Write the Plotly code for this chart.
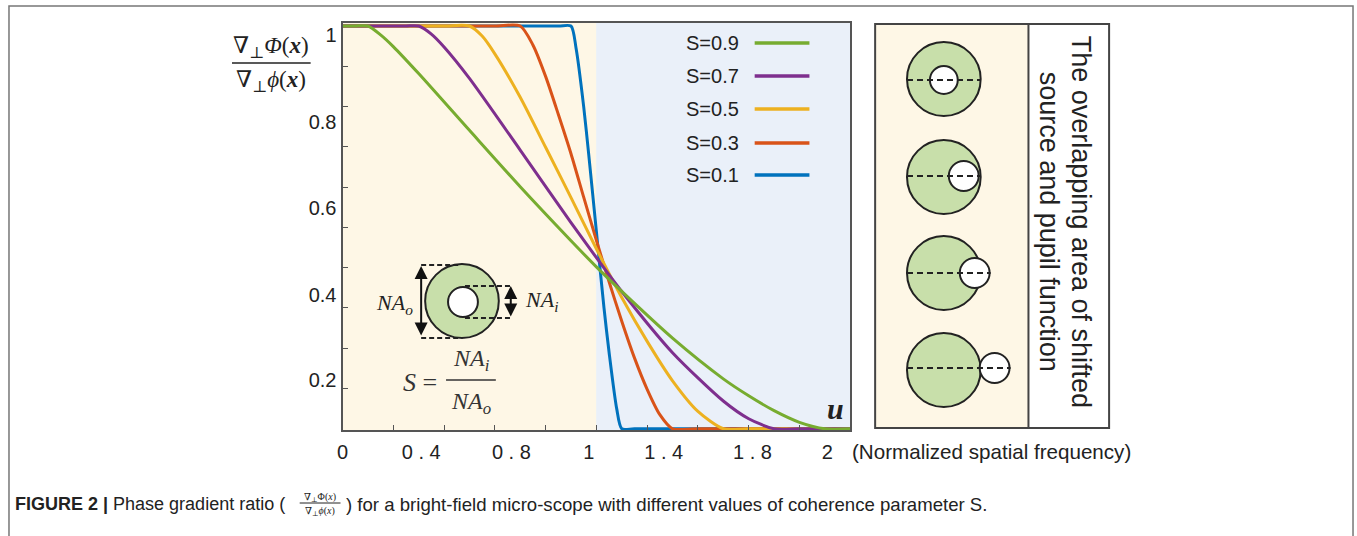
import plotly.graph_objects as go

W, H = 1357, 536

# ---------------- data ----------------
series_names = ["S=0.9", "S=0.7", "S=0.5", "S=0.3", "S=0.1"]
series_colors = ["#77AC30", "#7E2F8E", "#EDB120", "#D95319", "#0072BD"]

u_09 = [0, 0.05, 0.1, 0.15, 0.2, 0.3, 0.5, 0.7, 0.9, 1.0, 1.1, 1.3, 1.5, 1.6, 1.7, 1.8, 1.9, 2.0]
v_09 = [1, 1, 1, 0.978, 0.949, 0.882, 0.741, 0.601, 0.467, 0.402, 0.341, 0.225, 0.124, 0.082, 0.045, 0.016, 0, 0]

u_07 = [0, 0.15, 0.25, 0.3, 0.35, 0.4, 0.5, 0.7, 0.9, 1.0, 1.1, 1.3, 1.5, 1.6, 1.7, 1.8, 2.0]
v_07 = [1, 1, 1, 1, 0.98, 0.948, 0.870, 0.692, 0.512, 0.425, 0.341, 0.189, 0.069, 0.025, 0, 0, 0]

u_05 = [0, 0.2, 0.4, 0.5, 0.55, 0.6, 0.7, 0.8, 0.9, 1.0, 1.1, 1.2, 1.3, 1.4, 1.5, 1.6, 2.0]
v_05 = [1, 1, 1, 1, 0.975, 0.931, 0.823, 0.699, 0.574, 0.447, 0.326, 0.217, 0.119, 0.043, 0, 0, 0]

u_03 = [0, 0.3, 0.6, 0.7, 0.75, 0.8, 0.85, 0.9, 0.95, 1.0, 1.05, 1.1, 1.15, 1.2, 1.25, 1.3, 1.4, 2.0]
v_03 = [1, 1, 1, 1, 0.953, 0.875, 0.781, 0.683, 0.575, 0.468, 0.365, 0.267, 0.176, 0.098, 0.035, 0, 0, 0]

u_01 = [0, 0.4, 0.85, 0.9, 0.92, 0.95, 0.97, 1.0, 1.03, 1.05, 1.08, 1.1, 1.15, 1.6, 2.0]
v_01 = [1, 1, 1, 1, 0.945, 0.80, 0.68, 0.49, 0.30, 0.19, 0.05, 0, 0, 0, 0]

series_u = [u_09, u_07, u_05, u_03, u_01]
series_v = [v_09, v_07, v_05, v_03, v_01]

x_minor_ticks = [0.2, 0.4, 0.6, 0.8, 1.0, 1.2, 1.4, 1.6, 1.8]
y_minor_ticks = [0.1, 0.2, 0.3, 0.4, 0.5, 0.6, 0.7, 0.8, 0.9]

x_tick_text = ["0", "0 . 4", "0 . 8", "1", "1 . 4", "1 . 8", "2"]
x_tick_at = [0.0, 0.31, 0.665, 0.97, 1.265, 1.615, 1.91]      # where the labels sit in the picture
y_tick_text = ["1", "0.8", "0.6", "0.4", "0.2"]
y_tick_at = [0.978, 0.762, 0.548, 0.332, 0.121]

# ---------------- layout helpers ----------------
L, R, T, B = 338, 848, 23, 430
YMIN, YMAX = -0.003, 1.0075


def X(p):
    return p / W


def Y(p):
    return 1 - p / H


SANS = "Liberation Sans, Arial, sans-serif"
SERIF = "Liberation Serif, Times New Roman, DejaVu Serif, serif"
INK = "#222222"

fig = go.Figure()

# draw S=0.1 first, S=0.9 last (on top)
for name, u, v, c in reversed(list(zip(series_names, series_u, series_v, series_colors))):
    fig.add_trace(go.Scatter(x=u, y=v, mode="lines", name=name,
                             line=dict(color=c, width=3, shape="spline", smoothing=0.7),
                             showlegend=False, hoverinfo="skip"))

# invisible trace to activate the label axes
fig.add_trace(go.Scatter(x=[1], y=[0.5], xaxis="x2", yaxis="y2", mode="markers",
                         marker=dict(opacity=0), showlegend=False, hoverinfo="skip"))

shapes = []
ann = []


def text(px, py, s, size, family=SANS, color=INK, xanchor="center", yanchor="middle", angle=0):
    ann.append(dict(xref="paper", yref="paper", x=X(px), y=Y(py), text=s, showarrow=False,
                    xanchor=xanchor, yanchor=yanchor, textangle=angle,
                    font=dict(family=family, size=size, color=color)))


# background bands of the plot
shapes.append(dict(type="rect", xref="x", yref="y domain", x0=0, x1=1, y0=0, y1=1,
                   fillcolor="#FEF7E6", line=dict(width=0), layer="below"))
shapes.append(dict(type="rect", xref="x", yref="y domain", x0=1, x1=2, y0=0, y1=1,
                   fillcolor="#EAF0F9", line=dict(width=0), layer="below"))

# outer frame
shapes.append(dict(type="rect", xref="paper", yref="paper", x0=X(3), x1=X(1353), y0=Y(560), y1=Y(6),
                   line=dict(color="#777777", width=1.5)))

# right panel
PL, PD, PR, PT, PB = 873, 1027, 1108, 24, 428
shapes.append(dict(type="rect", xref="paper", yref="paper", x0=X(PL), x1=X(PD), y0=Y(PB), y1=Y(PT),
                   fillcolor="#FEF7E6", line=dict(width=0), layer="below"))
shapes.append(dict(type="rect", xref="paper", yref="paper", x0=X(PL), x1=X(PR), y0=Y(PB), y1=Y(PT),
                   line=dict(color="#444444", width=2)))
shapes.append(dict(type="line", xref="paper", yref="paper", x0=X(PD), x1=X(PD), y0=Y(PB), y1=Y(PT),
                   line=dict(color="#444444", width=2)))


def circle(cx, cy, r, fill, lw=2):
    return dict(type="circle", xref="paper", yref="paper",
                x0=X(cx - r), x1=X(cx + r), y0=Y(cy + r), y1=Y(cy - r),
                fillcolor=fill, line=dict(color=INK, width=lw))


def hline(x0, x1, y, dash=None, width=2, color=INK):
    d = dict(color=color, width=width)
    if dash:
        d["dash"] = dash
    return dict(type="line", xref="paper", yref="paper", x0=X(x0), x1=X(x1), y0=Y(y), y1=Y(y), line=d)


GREEN_FILL = "#C8DFAA"
rows = [(79, 942, 80, 14, 979), (177, 962, 176, 15, 979), (273, 973, 273, 15, 989), (370, 993, 368, 15, 1009)]
for cy, sx, sy, sr, dend in rows:
    shapes.append(circle(942, cy, 37, GREEN_FILL))
    shapes.append(circle(sx, sy, sr, "white"))
    shapes.append(hline(905, dend, sy, dash="6px,4px"))

text(1080, 222, "The overlapping area of shifted", 27, angle=90)
text(1048, 222, "source and pupil function", 27, angle=90)

# legend (text left, sample line right)
leg_y = [43, 76, 109, 143, 175]
for name, c, yy in zip(series_names, series_colors, leg_y):
    text(738, yy, name, 20, xanchor="right")
    shapes.append(hline(752, 807, yy, width=3.5, color=c))

# y-axis title fraction
text(266, 47, "∇<sub>⊥</sub><i>Φ</i>(<b><i>x</i></b>)", 23, family=SERIF)
shapes.append(hline(227, 306, 63, width=1.5))
text(266, 81, "∇<sub>⊥</sub><i>ϕ</i>(<b><i>x</i></b>)", 23, family=SERIF)

# inset schematic NA_o / NA_i
shapes.append(circle(458, 301, 37, GREEN_FILL))
shapes.append(circle(459, 302, 15, "white"))
shapes.append(hline(417, 455, 265, dash="5px,3px"))
shapes.append(hline(417, 455, 338, dash="5px,3px"))
shapes.append(hline(461, 507, 286, dash="5px,3px"))
shapes.append(hline(461, 507, 318, dash="5px,3px"))
for xx, y0, y1 in [(417, 266, 337), (507, 286, 318)]:
    ann.append(dict(xref="paper", yref="paper", x=X(xx), y=Y(y0), ax=0, ay=(y1 - y0),
                    axref="pixel", ayref="pixel", text="", showarrow=True,
                    arrowhead=2, startarrowhead=2, arrowside="end+start",
                    arrowsize=1.3, startarrowsize=1.3, arrowwidth=2, arrowcolor="#111111",
                    font=dict(size=10)))
text(390, 304, "<i>NA<sub>o</sub></i>", 22, family=SERIF)
text(538, 301, "<i>NA<sub>i</sub></i>", 22, family=SERIF)

# S = NA_i / NA_o
text(416, 382, "<i>S</i> =", 26, family=SERIF, color="#333333")
text(468, 360, "<i>NA<sub>i</sub></i>", 24, family=SERIF, color="#333333")
shapes.append(hline(442, 492, 380, width=1.5, color="#333333"))
text(467, 403, "<i>NA<sub>o</sub></i>", 24, family=SERIF, color="#333333")

# u label and axis note
text(833, 408, "<b><i>u</i></b>", 30, family=SERIF)
text(848, 451, "(Normalized spatial frequency)", 20.6, xanchor="left")

# caption
text(7, 504, "<b>FIGURE 2 |</b> Phase gradient ratio (", 18, xanchor="left")
text(315, 497, "∇<sub>⊥</sub>Φ(<i>x</i>)", 10, family=SERIF)
shapes.append(hline(295, 336, 503, width=1, color=INK))
text(315, 511, "∇<sub>⊥</sub><i>ϕ</i>(<i>x</i>)", 10, family=SERIF)
text(339, 504, ") for a bright-field micro-scope with different values of coherence parameter S.", 18.6,
     xanchor="left")

axis_common = dict(showgrid=False, zeroline=False, fixedrange=True)

fig.update_layout(
    width=W, height=H, autosize=False, margin=dict(l=0, r=0, t=0, b=0),
    paper_bgcolor="white", plot_bgcolor="#EAF0F9", showlegend=False,
    xaxis=dict(domain=[X(L), X(R)], range=[0, 2], tickvals=x_minor_ticks, ticks="inside", ticklen=5,
               tickcolor="#555555", tickwidth=1, showticklabels=False, showline=True,
               linecolor="#555555", linewidth=2, mirror=True, **axis_common),
    yaxis=dict(domain=[Y(B), Y(T)], range=[YMIN, YMAX], tickvals=y_minor_ticks, ticks="inside", ticklen=5,
               tickcolor="#555555", tickwidth=1, showticklabels=False, showline=True,
               linecolor="#555555", linewidth=2, mirror=True, **axis_common),
    xaxis2=dict(overlaying="x", anchor="y", side="bottom", range=[0, 2], tickvals=x_tick_at,
                ticktext=x_tick_text, ticks="", showline=False, ticklabelstandoff=8,
                tickfont=dict(family=SANS, size=20, color=INK), **axis_common),
    yaxis2=dict(overlaying="y", anchor="x", side="left", range=[YMIN, YMAX], tickvals=y_tick_at,
                ticktext=y_tick_text, ticks="", showline=False, ticklabelstandoff=5,
                tickfont=dict(family=SANS, size=20, color=INK), **axis_common),
    shapes=shapes, annotations=ann,
)

fig.write_html("out.html", config={"displayModeBar": False},
               post_script="document.body.style.margin='0px';document.body.style.overflow='hidden';")
